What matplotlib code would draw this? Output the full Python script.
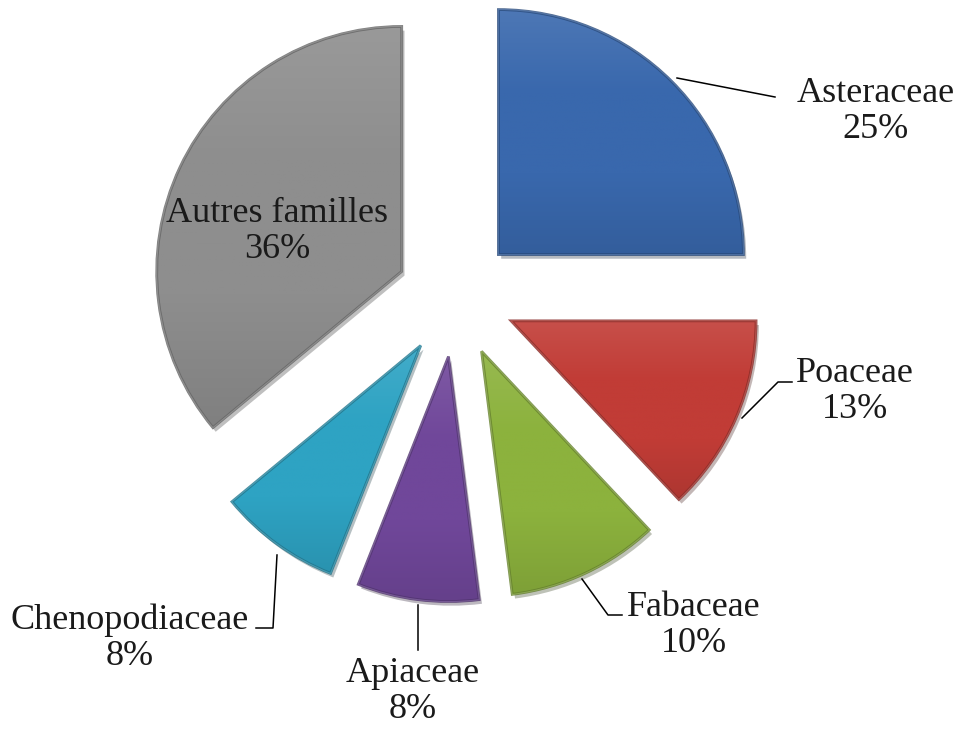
import matplotlib
matplotlib.use('Agg')
import matplotlib.pyplot as plt
import matplotlib.patheffects as pe
from matplotlib.patches import PathPatch
from matplotlib.colors import LinearSegmentedColormap, to_rgb
import numpy as np

# data
families = ["Asteraceae", "Poaceae", "Fabaceae", "Apiaceae", "Chenopodiaceae", "Autres familles"]
shares = [25, 13, 10, 8, 8, 36]
colors = ["#3968ad", "#c13c36", "#8cb23d", "#70479a", "#2ea3c3", "#8e8e8e"]

plt.rcParams['font.family'] = ['Liberation Serif', 'DejaVu Serif']

fig = plt.figure(figsize=(9.62, 7.31), dpi=100)
ax = fig.add_axes([0, 0, 1, 1])

# pixel-like units: radius 245, each slice pulled out by 60
wedges, _ = ax.pie(shares, explode=[60] * len(shares), radius=245, center=(456, 434),
                   startangle=90, counterclock=False, colors=colors, frame=True,
                   wedgeprops=dict(linewidth=0))
ax.set_xlim(0, 962)
ax.set_ylim(0, 731)
ax.set_aspect('equal')
ax.axis('off')


def shade(c, f):
    r, g, b = to_rgb(c)
    if f > 0:
        return (r + (1 - r) * f, g + (1 - g) * f, b + (1 - b) * f)
    return (r * (1 + f), g * (1 + f), b * (1 + f))


# fake the bevel look: light gradient clipped to every wedge, dark rim and a soft shadow
for w, c in zip(wedges, colors):
    w.set_path_effects([pe.SimplePatchShadow(offset=(2, -3), alpha=0.3), pe.Normal()])
    path = w.get_patch_transform().transform_path(w.get_path())
    bb = path.get_extents()
    cmap = LinearSegmentedColormap.from_list("g", [shade(c, 0.1), c, c, shade(c, -0.1)])
    grad = np.linspace(0, 1, 256).reshape(-1, 1)
    im = ax.imshow(grad, cmap=cmap, extent=(bb.x0, bb.x1, bb.y0, bb.y1),
                   origin='upper', aspect='auto', zorder=2)
    im.set_clip_path(w)
    ax.add_patch(PathPatch(path, fill=False, ec=shade(c, -0.3), lw=2.0, alpha=0.8, zorder=3))
    ax.add_patch(PathPatch(path, fill=False, ec=shade(c, 0.25), lw=0.8, alpha=0.5, zorder=3))

labels = [f"{n}\n{v}%" for n, v in zip(families, shares)]
fs = 26
txt = dict(fontsize=fs, ha='center', va='center', linespacing=1.12, color='#1a1a1a', zorder=5)
line = dict(color='black', lw=1.1, zorder=4)

# Asteraceae
ax.plot([677, 775], [731 - 78, 731 - 97], **line)
ax.text(876, 731 - 111, labels[0], **txt)
# Poaceae
ax.plot([742, 778, 792], [731 - 418, 731 - 382, 731 - 382], **line)
ax.text(855, 731 - 392, labels[1], **txt)
# Fabaceae
ax.plot([582, 608, 622], [731 - 579, 731 - 615, 731 - 615], **line)
ax.text(694, 731 - 625, labels[2], **txt)
# Apiaceae
ax.plot([418, 418], [731 - 605, 731 - 650], **line)
ax.text(413, 731 - 692, labels[3], **txt)
# Chenopodiaceae
ax.plot([277, 273, 256], [731 - 555, 731 - 628, 731 - 628], **line)
ax.text(130, 731 - 638, labels[4], **txt)
# Autres familles (inside the slice)
ax.text(277, 731 - 232, labels[5], **txt)

fig.savefig("out.png", dpi=100, facecolor='white')
